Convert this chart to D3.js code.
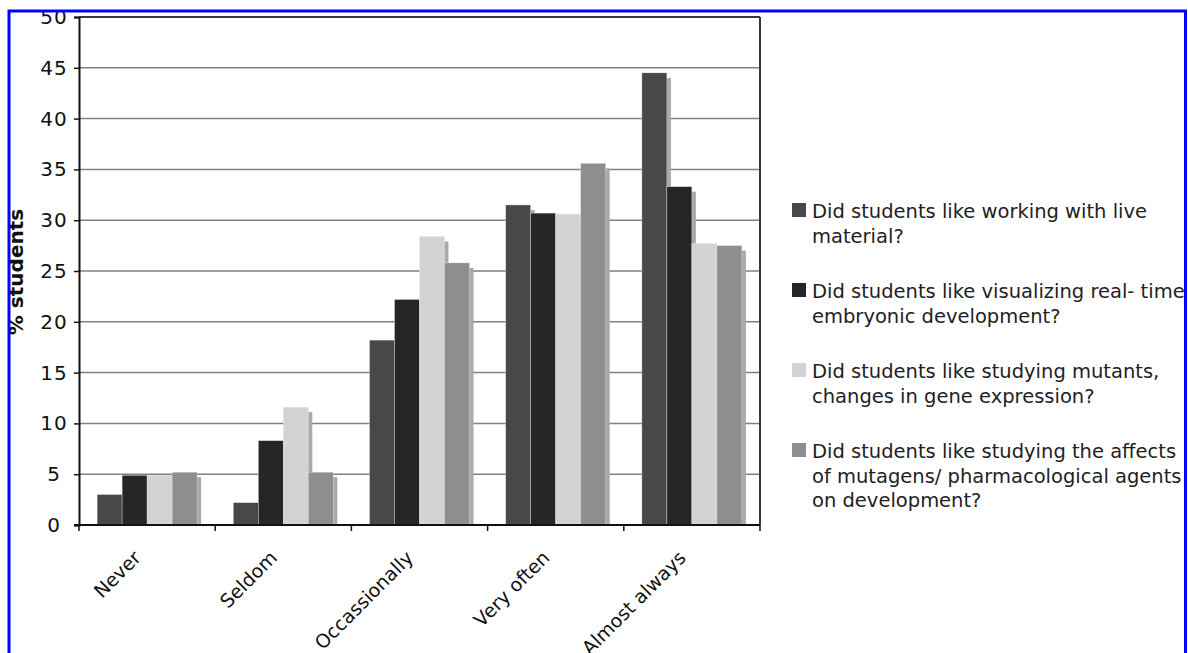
<!DOCTYPE html>
<html>
<head>
<meta charset="utf-8">
<script src="https://cdn.jsdelivr.net/npm/d3@7/dist/d3.min.js"></script>
<style>
  html, body { margin: 0; padding: 0; background: #fff; }
  svg { display: block; }
</style>
</head>
<body>
<svg id="chart" width="1188" height="653"></svg>
<script>
const categories = ["Never", "Seldom", "Occassionally", "Very often", "Almost always"];
const seriesNames = [
  "Did students like working with live material?",
  "Did students like visualizing real- time embryonic development?",
  "Did students like studying mutants, changes in gene expression?",
  "Did students like studying the affects of mutagens/ pharmacological agents on development?"
];
const liveMaterial = [3.0, 2.2, 18.2, 31.5, 44.5];
const realTime = [4.9, 8.3, 22.2, 30.7, 33.3];
const mutants = [4.9, 11.6, 28.4, 30.6, 27.7];
const mutagens = [5.2, 5.2, 25.8, 35.6, 27.5];
const yTicks = [0, 5, 10, 15, 20, 25, 30, 35, 40, 45, 50];
const legendLines = [
  ["Did students like working with live", "material?"],
  ["Did students like visualizing real- time", "embryonic development?"],
  ["Did students like studying mutants,", "changes in gene expression?"],
  ["Did students like studying the affects", "of mutagens/ pharmacological agents", "on development?"]
];

(function () {
const seriesValues = [liveMaterial, realTime, mutants, mutagens];
const colors = ["#484848", "#262626", "#d3d3d3", "#8e8e8e"];

const svg = d3.select("#chart");
const font = "'DejaVu Sans', Verdana, sans-serif";

const clip = svg.append("defs").append("clipPath").attr("id", "frameclip");
clip.append("rect").attr("x", 9).attr("y", 11).attr("width", 1175).attr("height", 650);

const g = svg.append("g").attr("clip-path", "url(#frameclip)");

const pL = 79, pR = 760, pT = 17, pB = 525;

const x0 = d3.scaleBand().domain(categories).range([pL, pR]).padding(0);
const x1 = d3.scaleBand().domain(d3.range(4)).range([0, x0.bandwidth()]).paddingInner(0).paddingOuter(0.724);
const y = d3.scaleLinear().domain([0, 50]).range([pB, pT]);

// gridlines
g.append("g").selectAll("line").data(yTicks.filter(t => t > 0 && t < 50)).join("line")
  .attr("x1", pL).attr("x2", pR)
  .attr("y1", d => y(d)).attr("y2", d => y(d))
  .attr("stroke", "#808080").attr("stroke-width", 1.5);

// bars with shadow
const groups = g.append("g").selectAll("g").data(categories).join("g")
  .attr("transform", d => `translate(${x0(d)},0)`);

groups.each(function (cat, ci) {
  const gg = d3.select(this);
  seriesValues.forEach((vals, si) => {
    const v = vals[ci];
    const bx = x1(si), bw = x1.bandwidth();
    const by = y(v), bh = y(0) - y(v);
    gg.append("rect")
      .attr("x", bx + 4).attr("y", by + 5)
      .attr("width", bw).attr("height", Math.max(0, bh - 5))
      .attr("fill", "#a9a9a9");
    gg.append("rect")
      .attr("x", bx).attr("y", by)
      .attr("width", bw).attr("height", bh)
      .attr("fill", colors[si])
      .attr("stroke", "#e8e8e8").attr("stroke-width", 0.4);
  });
});

// frame: top and right
g.append("line").attr("x1", pL).attr("x2", pR).attr("y1", pT).attr("y2", pT)
  .attr("stroke", "#3a3a3a").attr("stroke-width", 2);
g.append("line").attr("x1", pR).attr("x2", pR).attr("y1", pT).attr("y2", pB)
  .attr("stroke", "#3a3a3a").attr("stroke-width", 2);

// y axis
const yAxis = d3.axisLeft(y).tickValues(yTicks).tickSize(5).tickPadding(4);
const ya = g.append("g").attr("transform", `translate(${pL},0)`).call(yAxis);
ya.select(".domain").attr("stroke", "#111").attr("stroke-width", 2);
ya.selectAll(".tick line").attr("stroke", "#111").attr("stroke-width", 1.5);
ya.selectAll(".tick text")
  .attr("x", -25).attr("text-anchor", "middle")
  .attr("font-family", font).attr("font-size", 20).attr("letter-spacing", 1)
  .attr("fill", "#111");

// x axis
const xa = g.append("g").attr("transform", `translate(0,${pB})`);
xa.append("line").attr("x1", pL - 5).attr("x2", pR).attr("y1", 0).attr("y2", 0)
  .attr("stroke", "#111").attr("stroke-width", 2);
const boundaries = categories.map(c => x0(c)).concat([pR]);
xa.selectAll("line.tk").data(boundaries).join("line").attr("class", "tk")
  .attr("x1", d => d).attr("x2", d => d).attr("y1", 0).attr("y2", 6)
  .attr("stroke", "#111").attr("stroke-width", 1.5);
xa.selectAll("text").data(categories).join("text")
  .attr("transform", d => `translate(${x0(d) + x0.bandwidth() / 2 - 5},${34}) rotate(-45)`)
  .attr("text-anchor", "end")
  .attr("font-family", font).attr("font-size", 19).attr("fill", "#111")
  .text(d => d);

// y label
g.append("text")
  .attr("transform", "translate(23,272) rotate(-90)")
  .attr("text-anchor", "middle")
  .attr("font-family", font).attr("font-size", 20).attr("font-weight", "bold").attr("fill", "#111")
  .text("% students");

// legend
const lg = g.append("g");
legendLines.forEach((lines, i) => {
  const base = 218 + i * 80;
  lg.append("rect").attr("x", 792).attr("y", base - 15).attr("width", 14).attr("height", 14)
    .attr("fill", colors[i]);
  const t = lg.append("text").attr("font-family", font).attr("font-size", 19.5).attr("fill", "#222");
  lines.forEach((ln, j) => {
    t.append("tspan").attr("x", 812).attr("y", base + j * 24.5).text(ln);
  });
});

// blue border (no bottom edge)
svg.append("path")
  .attr("d", "M9,653 L9,11 L1185.5,11 L1185.5,653")
  .attr("fill", "none").attr("stroke", "#0000ff").attr("stroke-width", 3);
})();
</script>
</body>
</html>
